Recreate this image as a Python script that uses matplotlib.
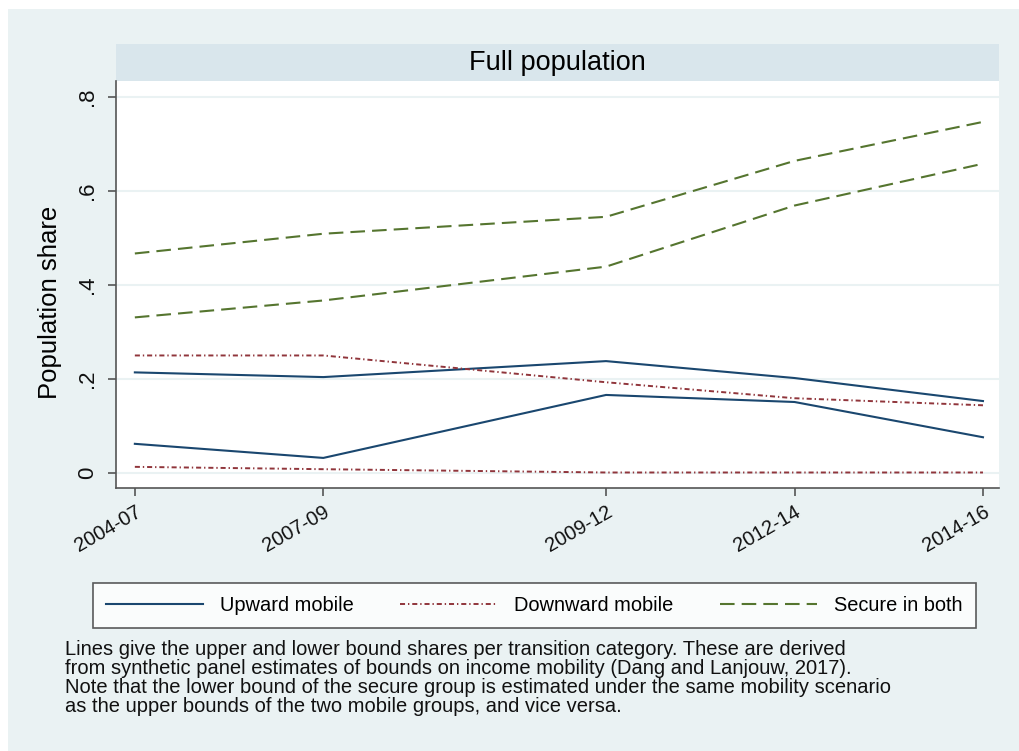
import matplotlib.pyplot as plt
from matplotlib.patches import Rectangle

plt.rcParams['font.family'] = ['Liberation Sans', 'DejaVu Sans']

# period end years, used as x positions
years = [2007, 2009, 2012, 2014, 2016]
periods = ["2004-07", "2007-09", "2009-12", "2012-14", "2014-16"]

upward_upper = [0.214, 0.204, 0.238, 0.202, 0.153]
upward_lower = [0.062, 0.032, 0.166, 0.151, 0.076]
downward_upper = [0.250, 0.250, 0.193, 0.159, 0.144]
downward_lower = [0.013, 0.008, 0.001, 0.001, 0.001]
secure_upper = [0.467, 0.509, 0.545, 0.664, 0.747]
secure_lower = [0.331, 0.367, 0.439, 0.569, 0.658]

yticks = [0, 0.2, 0.4, 0.6, 0.8]
ytick_labels = ["0", ".2", ".4", ".6", ".8"]

bg = "#eaf2f3"
navy = "#1a476f"
maroon = "#90353b"
green = "#55752f"
axis_col = "#555555"

fig = plt.figure(figsize=(10.2, 7.51), dpi=100)
fig.patch.set_facecolor("white")
fig.patches.append(Rectangle((8 / 1020, 0), 1, 1 - 9 / 751, transform=fig.transFigure,
                             facecolor=bg, edgecolor="none", zorder=-10))

ax = fig.add_axes([116 / 1020, 1 - 488 / 751, 883 / 1020, 407 / 751])
ax.set_facecolor("white")

# title strip above the plot region
fig.patches.append(Rectangle((116 / 1020, 1 - 81 / 751), 883 / 1020, 37 / 751,
                             transform=fig.transFigure, facecolor="#d9e6ec",
                             edgecolor="none", zorder=-5))
fig.text((116 + 883 / 2) / 1020, 1 - 63 / 751, "Full population", ha="center", va="center",
         fontsize=19.5, color="black")

dashdot = (0, (2.6, 1.5, 0.7, 1.5))
dashed = (0, (7, 3.4))

ax.plot(years, upward_upper, color=navy, lw=1.5, label="Upward mobile")
ax.plot(years, upward_lower, color=navy, lw=1.5)
ax.plot(years, downward_upper, color=maroon, lw=1.4, linestyle=dashdot, label="Downward mobile")
ax.plot(years, downward_lower, color=maroon, lw=1.4, linestyle=dashdot)
ax.plot(years, secure_upper, color=green, lw=1.5, linestyle=dashed, label="Secure in both")
ax.plot(years, secure_lower, color=green, lw=1.5, linestyle=dashed)

ax.set_xlim(2006.80, 2016.17)
ax.set_ylim(-0.032, 0.834)

ax.set_yticks(yticks)
ax.set_yticklabels(ytick_labels, rotation=90, va="center", fontsize=16)
ax.set_xticks(years)
ax.set_xticklabels(periods, rotation=30, ha="right", rotation_mode="anchor", fontsize=14.5)
ax.tick_params(axis="both", direction="out", length=6, width=1.2, color=axis_col,
               labelcolor="#111111", pad=4)
ax.tick_params(axis="y", pad=7)

ax.grid(axis="y", color=bg, lw=1.5)
ax.set_axisbelow(True)
for side in ["top", "right"]:
    ax.spines[side].set_visible(False)
for side in ["left", "bottom"]:
    ax.spines[side].set_color(axis_col)
    ax.spines[side].set_linewidth(1.2)

ax.set_ylabel("Population share", fontsize=18.5)
ax.yaxis.set_label_coords(-0.061, 0.457)

leg = fig.legend(loc="lower left", ncol=3, mode="expand",
                 bbox_to_anchor=(93 / 1020, 1 - 628 / 751, 883 / 1020, 48 / 751),
                 fontsize=14.4, handlelength=4.85, handletextpad=0.85, frameon=True,
                 fancybox=False, borderaxespad=0, borderpad=0.65)
leg.get_frame().set_edgecolor("#333333")
leg.get_frame().set_linewidth(1.2)
leg.get_frame().set_facecolor("white")

note = ("Lines give the upper and lower bound shares per transition category. These are derived\n"
        "from synthetic panel estimates of bounds on income mobility (Dang and Lanjouw, 2017).\n"
        "Note that the lower bound of the secure group is estimated under the same mobility scenario\n"
        "as the upper bounds of the two mobile groups, and vice versa.")
fig.text(65 / 1020, 1 - 640 / 751, note, ha="left", va="top", fontsize=14.5,
         linespacing=1.0, color="#111111")

fig.savefig("out.png", dpi=100, facecolor=fig.get_facecolor())
